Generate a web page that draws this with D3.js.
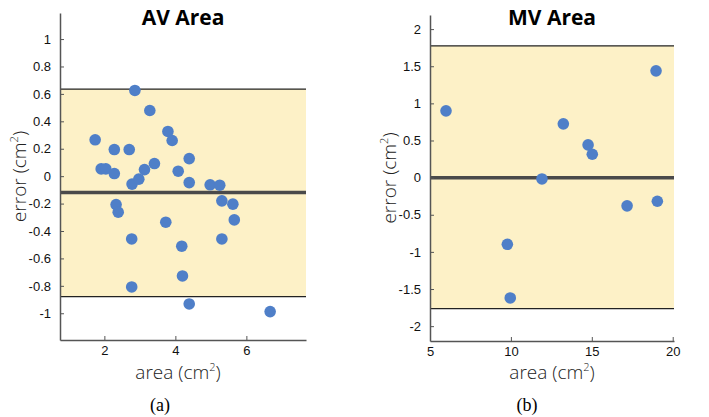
<!DOCTYPE html>
<meta charset="utf-8">
<script src="https://d3js.org/d3.v7.min.js"></script>
<style>
  body { margin: 0; background: #fff; }
  .tick text { font-family: "Liberation Sans", Arial, sans-serif; font-size: 13px; fill: #111; }
  .ttl { font-family: "Open Sans", sans-serif; font-weight: 700; font-size: 21px; }
  .alab { font-family: "Open Sans", sans-serif; font-weight: 300; font-size: 19px; fill: #222; }
  .cap { font-family: "Liberation Serif", "Times New Roman", serif; font-size: 18px; }
</style>
<div id="chart"></div>
<script>

// AV area panel (a)
const avArea = [2.86, 3.28, 1.74, 2.28, 2.70, 3.79, 3.91, 1.91, 2.04, 2.28, 2.78, 2.97, 3.13, 3.41, 4.08, 4.39,
                4.39, 4.98, 5.25, 5.31, 5.62, 2.33, 2.39, 3.73, 5.66, 2.77, 5.31, 4.18, 4.20, 2.77, 4.39, 6.67];
const avError = [0.625, 0.479, 0.265, 0.194, 0.194, 0.326, 0.26, 0.053, 0.053, 0.019, -0.058, -0.022, 0.048, 0.092, 0.036, 0.128,
                 -0.047, -0.063, -0.066, -0.18, -0.204, -0.207, -0.263, -0.336, -0.319, -0.458, -0.458, -0.511, -0.728, -0.808, -0.932, -0.988];
const avLimits = {upper: 0.635, mean: -0.12, lower: -0.879};
const avXTicks = [2, 4, 6];
const avYTicks = [-1, -0.8, -0.6, -0.4, -0.2, 0, 0.2, 0.4, 0.6, 0.8, 1];

// MV area panel (b)
const mvArea = [5.99, 18.97, 13.24, 14.77, 15.03, 11.92, 17.18, 19.05, 9.78, 9.96];
const mvError = [0.899, 1.438, 0.724, 0.441, 0.315, -0.018, -0.38, -0.318, -0.898, -1.62];
const mvLimits = {upper: 1.775, mean: 0, lower: -1.765};
const mvXTicks = [5, 10, 15, 20];
const mvYTicks = [-2, -1.5, -1, -0.5, 0, 0.5, 1, 1.5, 2];

const svg = d3.select("#chart").append("svg")
    .attr("width", 709)
    .attr("height", 417);

function drawPanel(opt) {
  const x = d3.scaleLinear().domain(opt.xDomain).range([opt.left, opt.right]);
  const y = d3.scaleLinear().domain(opt.yDomain).range([opt.bottom, opt.top]);
  const g = svg.append("g");

  // limits of agreement band
  g.append("rect")
    .attr("x", opt.left)
    .attr("y", y(opt.limits.upper))
    .attr("width", opt.right - opt.left)
    .attr("height", y(opt.limits.lower) - y(opt.limits.upper))
    .attr("fill", "#fdf1c7");
  [opt.limits.upper, opt.limits.lower].forEach(v => {
    g.append("line")
      .attr("x1", opt.left).attr("x2", opt.right)
      .attr("y1", y(v)).attr("y2", y(v))
      .attr("stroke", "#222").attr("stroke-width", 1.2);
  });
  g.append("line")
    .attr("x1", opt.left).attr("x2", opt.right)
    .attr("y1", y(opt.limits.mean)).attr("y2", y(opt.limits.mean))
    .attr("stroke", "#4a4a4a").attr("stroke-width", 3.5);

  // axes (plain hyphen for negatives, like the original)
  const fmt = d => String(d);
  const xAxis = g.append("g")
    .attr("transform", `translate(0,${opt.bottom})`)
    .call(d3.axisBottom(x).tickValues(opt.xTicks).tickSizeInner(-4).tickSizeOuter(0).tickPadding(6).tickFormat(fmt));
  const yAxis = g.append("g")
    .attr("transform", `translate(${opt.left},0)`)
    .call(d3.axisLeft(y).tickValues(opt.yTicks).tickSizeInner(-4).tickSizeOuter(0).tickPadding(9).tickFormat(fmt));
  [xAxis, yAxis].forEach(a => {
    a.select(".domain").attr("stroke", "#555").attr("stroke-width", 1.5);
    a.selectAll(".tick line").attr("stroke", "#555");
  });

  // points
  g.append("g")
    .selectAll("circle")
    .data(opt.xs.map((v, i) => [v, opt.ys[i]]))
    .join("circle")
      .attr("cx", d => x(d[0]))
      .attr("cy", d => y(d[1]))
      .attr("r", 5.8)
      .attr("fill", "#4f7fc8");

  // title
  g.append("text")
    .attr("class", "ttl")
    .attr("x", (opt.left + opt.right) / 2)
    .attr("y", 25)
    .attr("text-anchor", "middle")
    .text(opt.title);

  // axis labels
  const xl = g.append("text")
    .attr("class", "alab")
    .attr("x", opt.xLabelX)
    .attr("y", 379)
    .attr("text-anchor", "middle");
  xl.append("tspan").text("area (cm");
  xl.append("tspan").attr("dy", -8).attr("font-size", 11).text("2");
  xl.append("tspan").attr("dy", 8).text(")");

  const yl = g.append("text")
    .attr("class", "alab")
    .attr("transform", `translate(${opt.left - 34},${(opt.top + opt.bottom) / 2}) rotate(-90)`)
    .attr("text-anchor", "middle");
  yl.append("tspan").text("error (cm");
  yl.append("tspan").attr("dy", -8).attr("font-size", 11).text("2");
  yl.append("tspan").attr("dy", 8).text(")");

  // caption
  g.append("text")
    .attr("class", "cap")
    .attr("x", opt.capX)
    .attr("y", 411)
    .attr("text-anchor", "middle")
    .text(opt.caption);
}

drawPanel({
  xs: avArea, ys: avError, limits: avLimits,
  xDomain: [0.75, 7.68], yDomain: [-1.195, 1.19],
  xTicks: avXTicks, yTicks: avYTicks,
  left: 60, right: 306, top: 13, bottom: 340,
  title: "AV Area", xLabelX: 178, capX: 160, caption: "(a)"
});

drawPanel({
  xs: mvArea, ys: mvError, limits: mvLimits,
  xDomain: [5, 20.08], yDomain: [-2.2, 2.19],
  xTicks: mvXTicks, yTicks: mvYTicks,
  left: 430, right: 674, top: 15, bottom: 341,
  title: "MV Area", xLabelX: 552, capX: 527, caption: "(b)"
});

</script>
